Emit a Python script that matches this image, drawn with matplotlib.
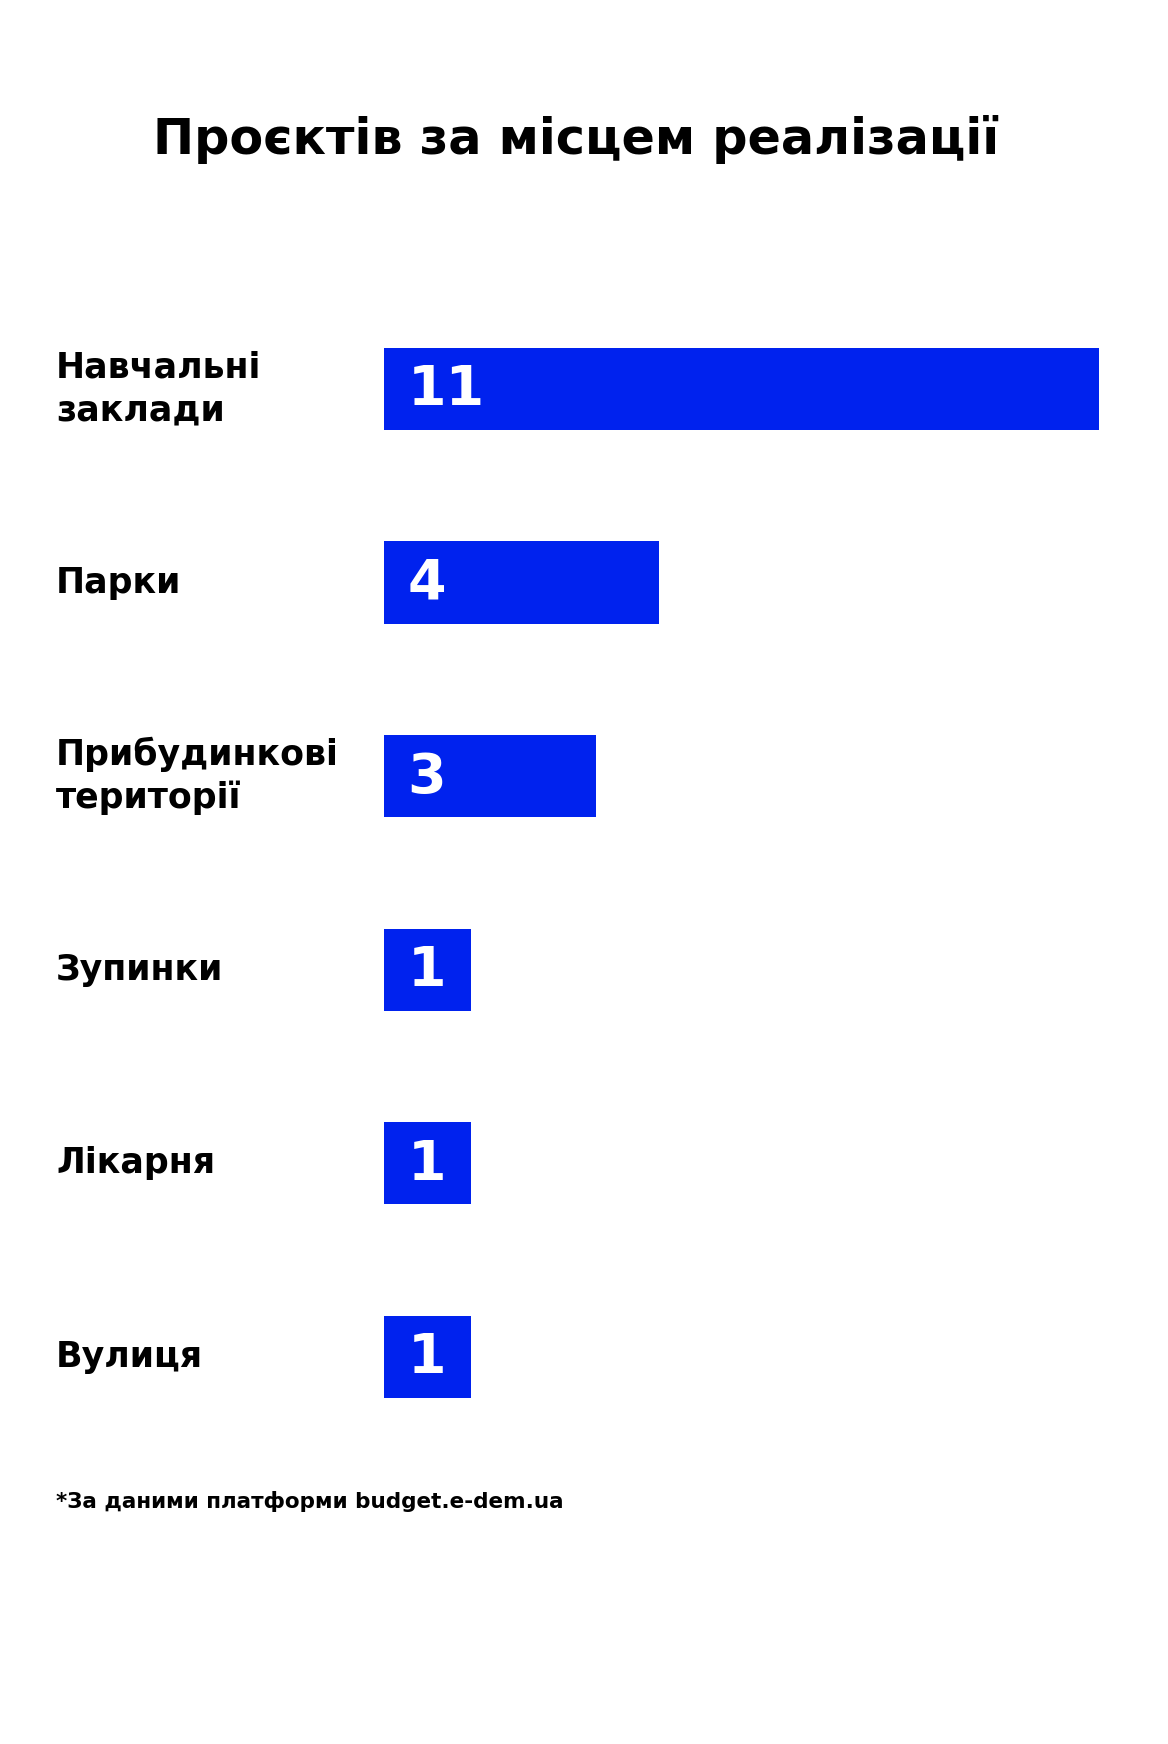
import matplotlib
matplotlib.use('Agg')
import matplotlib.pyplot as plt
import matplotlib.transforms as mtransforms

# data
categories = ['Навчальні\nзаклади', 'Парки', 'Прибудинкові\nтериторії', 'Зупинки', 'Лікарня', 'Вулиця']
counts = [11, 4, 3, 1, 1, 1]
title = 'Проєктів за місцем реалізації'
footnote = '*За даними платформи budget.e-dem.ua'

bar_color = '#0022ee'
bar_pad = 0.38  # small gutter so that the value label fits into short bars

plt.rcParams['font.family'] = ['DejaVu Sans']
plt.rcParams['font.weight'] = 'bold'

fig = plt.figure(figsize=(11.68, 17.44), dpi=100)
fig.patch.set_facecolor('white')

# bar area (figure fractions)
ax = fig.add_axes([384 / 1168, 0.1664, (1099 - 384) / 1168, 0.6661])
ypos = list(range(len(categories)))
ax.barh(ypos, [c + bar_pad for c in counts], left=-bar_pad, height=0.424, color=bar_color)
ax.set_xlim(-bar_pad, max(counts))
ax.set_ylim(len(categories) - 0.5, -0.5)
ax.axis('off')

# value labels inside the bars
for y, v in zip(ypos, counts):
    ax.annotate(str(v), xy=(-bar_pad, y), xytext=(17, -1), textcoords='offset points',
                ha='left', va='center', color='white', fontsize=40, fontweight='bold')

# category labels on the left
trans = mtransforms.blended_transform_factory(fig.transFigure, ax.transData)
for y, name in zip(ypos, categories):
    ax.text(56 / 1168, y, name, transform=trans, ha='left', va='center',
            fontsize=25, fontweight='bold', color='black', linespacing=1.3)

fig.text(0.493, 1 - 139 / 1744, title, ha='center', va='center',
         fontsize=35.5, fontweight='bold', color='black')
fig.text(56 / 1168, 1 - 1501 / 1744, footnote, ha='left', va='center',
         fontsize=15.5, fontweight='bold', color='black')

fig.savefig('out.png', dpi=100, facecolor='white')
